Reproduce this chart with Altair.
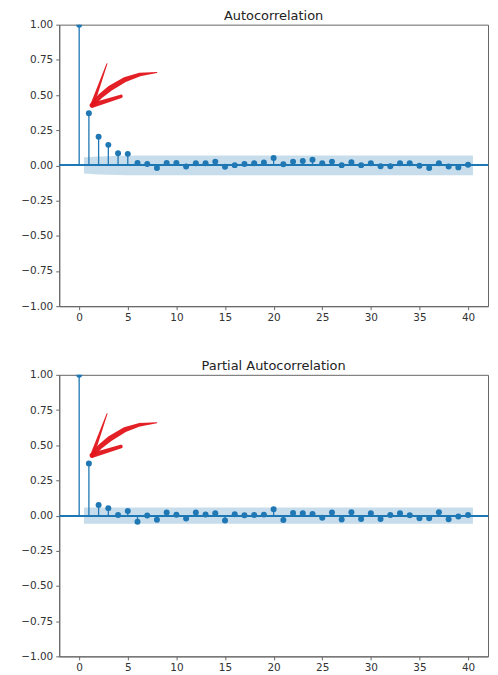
import altair as alt
import pandas as pd

# ---- data ----
lags = list(range(41))
acf_values = [1.0, 0.37, 0.204, 0.146, 0.087, 0.082, 0.017, 0.010, -0.018, 0.017,
              0.017, -0.007, 0.016, 0.016, 0.027, -0.010, 0.002, 0.010, 0.016, 0.021,
              0.052, 0.008, 0.027, 0.032, 0.040, 0.016, 0.027, 0.002, 0.023, 0.002,
              0.016, -0.006, -0.006, 0.016, 0.016, -0.003, -0.018, 0.016, -0.008, -0.014,
              0.005]
pacf_values = [1.0, 0.37, 0.075, 0.053, 0.005, 0.032, -0.043, 0.0, -0.030, 0.022,
               0.006, -0.021, 0.022, 0.008, 0.016, -0.035, 0.010, 0.002, 0.005, 0.007,
               0.045, -0.032, 0.019, 0.016, 0.012, -0.016, 0.022, -0.027, 0.024, -0.024,
               0.016, -0.024, 0.004, 0.016, 0.002, -0.019, -0.019, 0.024, -0.026, -0.007,
               0.005]

# confidence band (half widths) at band x positions
acf_band_lag = [0.5, 2, 3, 4, 5, 6, 40.5]
acf_band_half = [0.058, 0.064, 0.066, 0.068, 0.069, 0.070, 0.070]
pacf_band_lag = [0.5, 40.5]
pacf_band_half = [0.058, 0.058]

# hand-drawn red arrow annotation (data coordinates), three strokes
arrow_stroke = [0, 0, 0, 0, 0, 0, 1, 1, 2, 2]
arrow_seq = [0, 1, 2, 3, 4, 5, 0, 1, 0, 1]
arrow_lag = [7.98, 6.24, 4.70, 3.17, 2.15, 1.33, 2.86, 1.33, 1.33, 4.30]
arrow_val = [0.660, 0.646, 0.610, 0.547, 0.490, 0.427, 0.723, 0.427, 0.427, 0.491]
arrow_w = [1.0, 3.5, 5.0, 5.5, 5.0, 4.0, 1.0, 4.0, 5.0, 3.5]

x_ticks = [0, 5, 10, 15, 20, 25, 30, 35, 40]
y_ticks = [-1.0, -0.75, -0.5, -0.25, 0.0, 0.25, 0.5, 0.75, 1.0]

BLUE = "#1f77b4"
FONT = "DejaVu Sans"

arrow_df = pd.DataFrame({"stroke": arrow_stroke, "seq": arrow_seq,
                         "lag": arrow_lag, "value": arrow_val, "w": arrow_w})


def panel(title, values, band_lag, band_half):
    df = pd.DataFrame({"lag": lags, "value": values, "zero": [0.0] * len(lags)})
    bdf = pd.DataFrame({"lag": band_lag, "lo": [-h for h in band_half], "hi": band_half})

    xs = alt.Scale(domain=[-2.05, 42.05], nice=False, zero=False)
    ys = alt.Scale(domain=[-1, 1], nice=False)
    xax = alt.Axis(values=x_ticks, format="d", title=None, labelOverlap=False)
    yax = alt.Axis(values=y_ticks, format=".2f", title=None, labelOverlap=False)

    X = lambda f: alt.X(f, scale=xs, axis=xax)
    Y = lambda f: alt.Y(f, scale=ys, axis=yax)

    band = alt.Chart(bdf).mark_area(color=BLUE, opacity=0.25, clip=True).encode(
        x=X("lag:Q"), y=Y("lo:Q"), y2="hi:Q",
    )
    zero = alt.Chart(df).mark_rule(color=BLUE, strokeWidth=1.3).encode(
        y=alt.datum(0, scale=ys, axis=yax)
    )
    stems = alt.Chart(df).mark_rule(color=BLUE, strokeWidth=1.3).encode(
        x=X("lag:Q"), y=Y("zero:Q"), y2="value:Q",
    )
    pts = alt.Chart(df).mark_circle(color=BLUE, opacity=1, size=36, clip=True).encode(
        x=X("lag:Q"), y=Y("value:Q"),
    )
    arrow = alt.Chart(arrow_df).mark_trail(color="#e3141b", opacity=0.95).encode(
        x=X("lag:Q"), y=Y("value:Q"),
        size=alt.Size("w:Q", scale=None, legend=None),
        detail="stroke:N",
        order="seq:Q",
    )
    return alt.layer(band, zero, stems, pts, arrow).properties(
        width=431, height=283,
        title=alt.TitleParams(title, fontSize=13, font=FONT, fontWeight="normal",
                              color="#222", offset=-3.6, anchor="middle"),
    )


top = panel("Autocorrelation", acf_values, acf_band_lag, acf_band_half)
bottom = panel("Partial Autocorrelation", pacf_values, pacf_band_lag, pacf_band_half)

chart = alt.vconcat(top, bottom, spacing=36).properties(
    padding={"left": 11.5, "top": 0, "right": 0, "bottom": 0}
).configure_view(
    stroke="#666", strokeWidth=1
).configure_axis(
    grid=False, domainColor="#666", tickColor="#666", tickSize=3.5,
    labelFont=FONT, labelFontSize=10.5, labelColor="#333", labelPadding=3,
    domainWidth=1, tickWidth=1,
)

chart.save("out.html", embed_options={"renderer": "svg", "actions": False})
